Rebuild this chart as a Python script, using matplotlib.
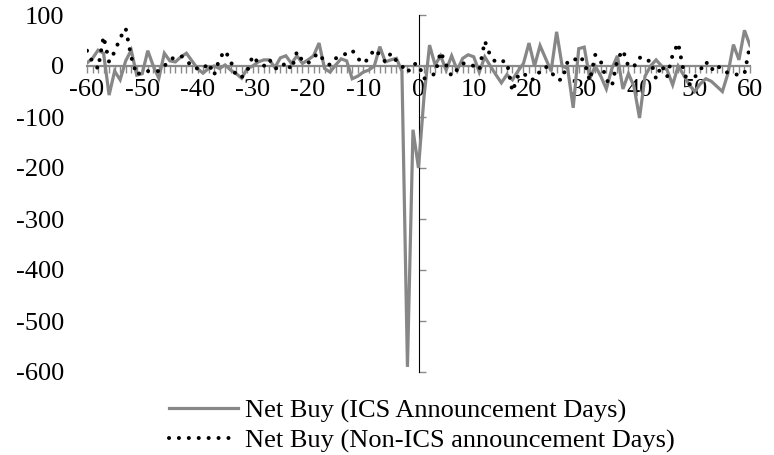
import numpy as np
import matplotlib.pyplot as plt
from matplotlib.ticker import MultipleLocator

# event days relative to the announcement
days = list(range(-60, 61))

# Net Buy on ICS announcement days (grey solid line)
net_buy_ics = [
    6, 15, 31, 25, -57, -10, -27, 10, 31, -18,        # -60..-51
    -15, 30, 0, -24, 25, 10, 8, 18, 25, 10,           # -50..-41
    -5, -14, -5, 0, -5, 2, -8, -15, -24, -5,          # -40..-31
    0, 8, 12, 12, -3, 16, 20, 5, 20, 5,               # -30..-21
    12, 20, 45, -5, -12, 2, 14, 10, -25, -20,         # -20..-11
    -12, -8, 0, 38, 8, 12, 15, -10, -590, -125,       # -10..-1
    -200,                                             # 0
    -60, 41, 2, 20, -8, 20, -8, 15, 22, 18,           # 1..10
    -12, 18, 0, -17, -33, -17, -27, -10, 5, 45,       # 11..20
    0, 40, 15, -10, 67, 0, -5, -82, 34, 37,           # 21..30
    -25, 0, -20, -45, -5, 20, -45, -15, -40, -102,    # 31..40
    -20, 0, 12, 0, -8, -37, 0, -18, -37, -50,         # 41..50
    -35, -25, -30, -40, -50, -15, 42, 12, 70, 40,     # 51..60
]

# Net Buy on non-ICS announcement days (black dotted line)
net_buy_non_ics = [
    30, 8, -5, 58, 8, 28, 55, 74, 18, -18,            # -60..-51
    -10, -10, -10, -10, 0, 12, 18, 20, 12, -2,        # -50..-41
    -5, -6, 6, -18, 15, 30, 10, -20, -22, -10,        # -40..-31
    20, 6, 0, 13, -4, -6, 8, -7, 28, 10,              # -30..-21
    5, 18, 25, 8, 2, 15, 19, 25, 31, 15,              # -20..-11
    5, 15, 33, 22, 8, 25, 10, 0, -13, 4,              # -10..-1
    4,                                                # 0
    -25, -18, -16, 28, 2, -20, -7, 5, 5, 0,           # 1..10
    -8, 49, 20, 7, 10, 8, -50, -20, -13, -27,         # 11..20
    -26, -10, -1, -11, -27, -27, 9, 9, 20, 9,         # 21..30
    -29, 22, 9, -27, -40, 13, 31, -1, -1, 17,         # 31..40
    9, 11, -25, 2, -21, 22, 45, -11, -37, -22,        # 41..50
    -8, 9, -8, 3, -10, -13, -15, -18, -15, 41,        # 51..60
]

y_ticks = [100, 0, -100, -200, -300, -400, -500, -600]
x_ticks = list(range(-60, 61, 10))
labels = ["Net Buy (ICS Announcement Days)", "Net Buy (Non-ICS announcement Days)"]

plt.rcParams["font.family"] = ["Liberation Serif", "DejaVu Serif"]
AXIS_GREY = "#8a8a8a"
FS = 19

fig = plt.figure(figsize=(7.74, 4.55), dpi=100)
ax = fig.add_axes([87 / 774, 1 - 372 / 455, 663 / 774, 357 / 455])

ax.plot(days, net_buy_ics, color="#878787", lw=2.3, solid_joinstyle="miter",
        label=labels[0], zorder=3)
ax.plot(days, net_buy_non_ics, color="black", lw=2.9, linestyle=(0, (0.01, 2.45)),
        dash_capstyle="round", label=labels[1], zorder=4)

ax.set_xlim(-60, 60)
ax.set_ylim(-600, 100)

# x axis runs through zero
for s in ["top", "right", "left"]:
    ax.spines[s].set_visible(False)
ax.spines["bottom"].set_position(("data", 0))
ax.spines["bottom"].set_color(AXIS_GREY)
ax.spines["bottom"].set_linewidth(1.6)
ax.set_xticks(x_ticks)
ax.set_xticklabels([str(t) for t in x_ticks])
ax.xaxis.set_minor_locator(MultipleLocator(1))
ax.tick_params(axis="x", which="both", direction="out", length=5, width=1,
               color=AXIS_GREY, labelsize=FS, pad=4.5)

# y labels at far left, axis line drawn at x = 0
ax.set_yticks(y_ticks)
ax.set_yticklabels([str(t) for t in y_ticks])
ax.tick_params(axis="y", length=0, labelsize=FS, pad=16.5)

yax = ax.secondary_yaxis(0.5)
yax.set_yticks(y_ticks)
yax.set_yticklabels([])
yax.spines["left"].set_color(AXIS_GREY)
yax.spines["left"].set_linewidth(1.2)
yax.tick_params(axis="y", direction="out", length=5, width=1, color=AXIS_GREY)

fig.legend(loc="upper left", bbox_to_anchor=(169 / 774, 1 - 399 / 455),
           frameon=False, fontsize=FS, handlelength=2.6, handletextpad=0.27,
           labelspacing=0.24, borderpad=0, borderaxespad=0)

fig.savefig("out.png", dpi=100)
